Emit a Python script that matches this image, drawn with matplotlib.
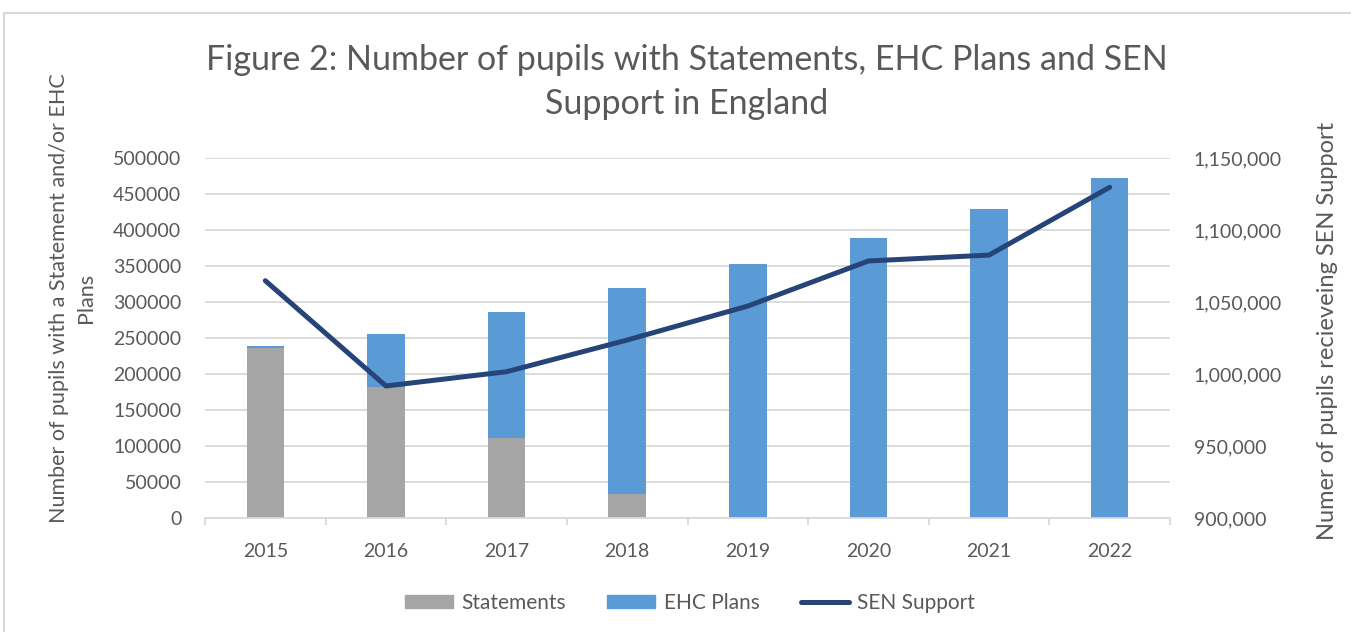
import numpy as np
import matplotlib.pyplot as plt
from matplotlib.patches import Patch, Rectangle
from matplotlib.lines import Line2D
from matplotlib.ticker import FuncFormatter, MultipleLocator

plt.rcParams['font.family'] = ['Lato', 'DejaVu Sans']

# Data
years = ['2015', '2016', '2017', '2018', '2019', '2020', '2021', '2022']
statements = [236000, 182000, 111500, 33800, 0, 0, 0, 0]
ehc_plans = [3700, 74000, 175500, 286100, 353600, 389700, 430000, 472700]
sen_support = [1065000, 991900, 1001800, 1023800, 1047400, 1078700, 1082800, 1129900]

text_col = '#595959'
grid_col = '#d9d9d9'

fig = plt.figure(figsize=(13.51, 6.32), dpi=100)
W, H = 1351, 632

# outer chart border
fig.patches.append(Rectangle((4 / W, -0.1), 1.2, 1 - 13 / H + 0.1, transform=fig.transFigure,
                             fill=False, edgecolor=grid_col, linewidth=1.5))

ax = fig.add_axes([205 / W, 1 - 518.3 / H, 965 / W, 360 / H])
x = np.arange(len(years))

ax.bar(x, statements, width=0.31, color='#A5A5A5', zorder=2)
ax.bar(x, ehc_plans, width=0.31, bottom=statements, color='#5B9BD5', zorder=2)

ax.set_xlim(-0.5, len(years) - 0.5)
ax.set_ylim(0, 500000)
ax.yaxis.set_major_locator(MultipleLocator(50000))
ax.yaxis.grid(True, color=grid_col, linewidth=1.3)
ax.set_axisbelow(True)

for s in ['top', 'left', 'right']:
    ax.spines[s].set_visible(False)
ax.spines['bottom'].set_color(grid_col)
ax.spines['bottom'].set_linewidth(1.3)

ax.set_xticks(x)
ax.set_xticklabels(years)
ax.set_xticks(np.arange(-0.5, len(years)), minor=True)
ax.tick_params(axis='x', which='major', length=0, pad=18, labelsize=14, labelcolor=text_col)
ax.tick_params(axis='x', which='minor', length=5, width=1.3, color=grid_col)
ax.tick_params(axis='y', length=0, pad=17, labelsize=14, labelcolor=text_col)

ax.set_ylabel('Number of pupils with a Statement and/or EHC\nPlans', fontsize=15.5,
              color=text_col, labelpad=12, linespacing=1.45)
ax.yaxis.label.set_y(0.612)

ax2 = ax.twinx()
ax2.plot(x, sen_support, color='#264478', linewidth=3.6, solid_capstyle='round', zorder=3)
ax2.set_ylim(900000, 1150000)
ax2.yaxis.set_major_locator(MultipleLocator(50000))
ax2.yaxis.set_major_formatter(FuncFormatter(lambda v, p: f'{v:,.0f}'))
ax2.tick_params(axis='y', length=0, pad=17, labelsize=14, labelcolor=text_col)
for s in ['top', 'left', 'right', 'bottom']:
    ax2.spines[s].set_visible(False)
ax2.set_ylabel('Numer of pupils recieveing SEN Support', fontsize=17, color=text_col, labelpad=25)
ax2.yaxis.label.set_y(0.52)

fig.text(687 / W, 1 - 82 / H, 'Figure 2: Number of pupils with Statements, EHC Plans and SEN\nSupport in England',
         ha='center', va='center', fontsize=24.5, color=text_col, linespacing=1.45)

handles = [Patch(color='#A5A5A5'), Patch(color='#5B9BD5'),
           Line2D([], [], color='#264478', linewidth=3.6, solid_capstyle='round')]
fig.legend(handles, ['Statements', 'EHC Plans', 'SEN Support'], loc='center',
           bbox_to_anchor=(690 / W, 1 - 603 / H), ncol=3, frameon=False, fontsize=15,
           labelcolor=text_col, handlelength=2.3, handleheight=0.6, handletextpad=0.4,
           columnspacing=2.0)

fig.savefig('out.png', dpi=100)
